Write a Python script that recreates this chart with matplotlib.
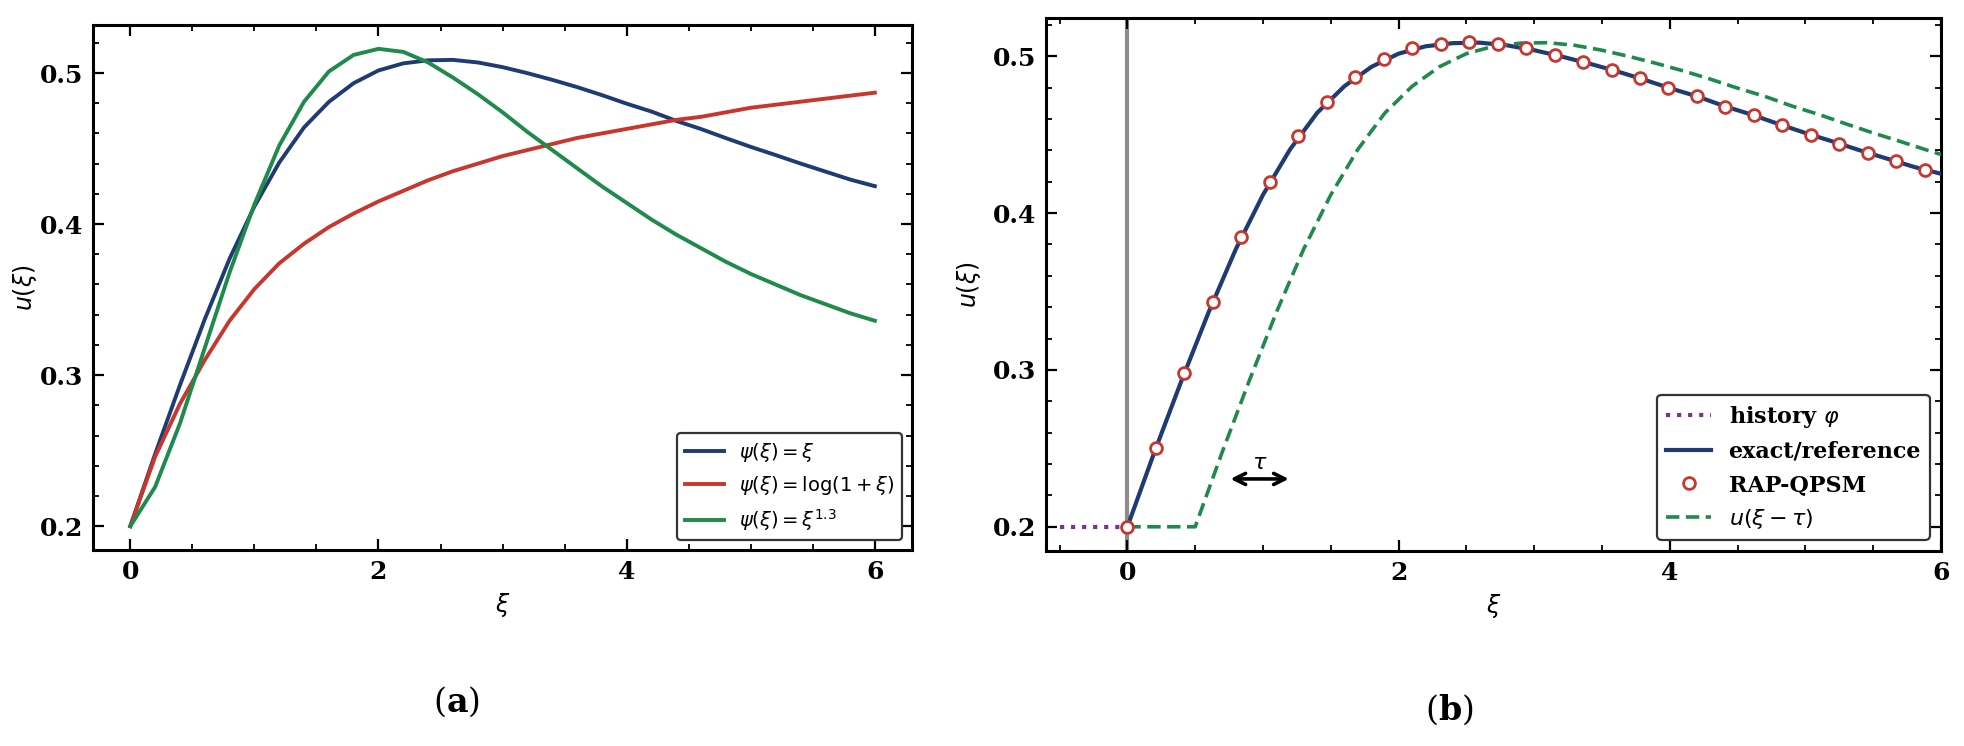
import numpy as np
import matplotlib
matplotlib.use("Agg")
import matplotlib.pyplot as plt
from matplotlib.ticker import MultipleLocator, AutoMinorLocator

###########################
# data

# common grid for the solution curves
xi_grid = [0.0, 0.2, 0.4, 0.6, 0.8, 1.0, 1.2, 1.4, 1.6, 1.8, 2.0, 2.2, 2.4, 2.6,
           2.8, 3.0, 3.2, 3.4, 3.6, 3.8, 4.0, 4.2, 4.4, 4.6, 4.8, 5.0, 5.2,
           5.4, 5.6, 5.8, 6.0]

# psi(xi) = xi  (same curve is the exact/reference solution in panel b)
u_psi_lin = [0.200, 0.2478, 0.2934, 0.3370, 0.3771, 0.4117, 0.4407, 0.4640,
             0.4809, 0.4933, 0.5017, 0.5064, 0.5084, 0.5087, 0.5070, 0.5039,
             0.4999, 0.4955, 0.4907, 0.4854, 0.4797, 0.4745, 0.4683, 0.4629,
             0.4569, 0.4511, 0.4457, 0.4401, 0.4348, 0.4295, 0.4251]

# psi(xi) = log(1 + xi)
u_psi_log = [0.200, 0.246, 0.281, 0.310, 0.336, 0.357, 0.374, 0.387, 0.398,
             0.407, 0.415, 0.422, 0.429, 0.435, 0.440, 0.445, 0.449, 0.453,
             0.457, 0.460, 0.463, 0.466, 0.469, 0.471, 0.474, 0.477, 0.479,
             0.481, 0.483, 0.485, 0.487]

# psi(xi) = xi^1.3
u_psi_pow = [0.200, 0.226, 0.268, 0.318, 0.368, 0.413, 0.452, 0.481, 0.501,
             0.512, 0.516, 0.514, 0.507, 0.497, 0.486, 0.474, 0.461, 0.449,
             0.437, 0.425, 0.414, 0.403, 0.393, 0.384, 0.375, 0.367, 0.360,
             0.353, 0.347, 0.341, 0.336]

# RAP-QPSM nodes (panel b)
rap_xi = [0.0, 0.21, 0.42, 0.63, 0.84, 1.05, 1.26, 1.47, 1.68, 1.89, 2.10, 2.31,
          2.52, 2.73, 2.94, 3.15, 3.36, 3.57, 3.78, 3.99, 4.20, 4.41, 4.62,
          4.83, 5.04, 5.25, 5.46, 5.67, 5.88]
rap_u = [0.200, 0.250, 0.298, 0.3435, 0.385, 0.420, 0.449, 0.471, 0.487, 0.498,
         0.505, 0.508, 0.509, 0.508, 0.505, 0.501, 0.4965, 0.4915, 0.486,
         0.480, 0.4745, 0.468, 0.4623, 0.456, 0.450, 0.4443, 0.4384, 0.433,
         0.4273]

# delay and history
tau = 0.5
history_xi = [-0.5, 0.0]
history_u = [0.2, 0.2]

###########################
# style
plt.rcParams['font.family'] = 'DejaVu Serif'
plt.rcParams['mathtext.fontset'] = 'dejavusans'
plt.rcParams['axes.linewidth'] = 2.2

BLUE = '#1f3b73'
RED = '#c8372d'
GREEN = '#1e8a4c'
PURPLE = '#7b3294'


def style_axes(ax, ypad):
    ax.xaxis.set_major_locator(MultipleLocator(2))
    ax.yaxis.set_major_locator(MultipleLocator(0.1))
    ax.xaxis.set_minor_locator(AutoMinorLocator(4))
    ax.yaxis.set_minor_locator(AutoMinorLocator(5))
    ax.tick_params(which='both', direction='in', top=True, right=True)
    ax.tick_params(which='major', length=8, width=1.6, labelsize=18, pad=7)
    ax.tick_params(which='minor', length=4, width=1.3)
    plt.setp(ax.get_xticklabels() + ax.get_yticklabels(), fontweight='bold')
    ax.set_xlabel(r'$\xi$', fontsize=17, labelpad=5)
    ax.set_ylabel(r'$u(\xi)$', fontsize=17, labelpad=ypad)


fig = plt.figure(figsize=(19.64, 7.46), dpi=100)
ax_a = fig.add_axes([0.0474, 0.2627, 0.4170, 0.7038])
ax_b = fig.add_axes([0.5326, 0.2614, 0.4557, 0.7145])

# panel (a)
ax_a.plot(xi_grid, u_psi_lin, color=BLUE, lw=2.8, label=r'$\psi(\xi) = \xi$')
ax_a.plot(xi_grid, u_psi_log, color=RED, lw=2.8, label=r'$\psi(\xi) = \log(1 + \xi)$')
ax_a.plot(xi_grid, u_psi_pow, color=GREEN, lw=2.8, label=r'$\psi(\xi) = \xi^{1.3}$')
style_axes(ax_a, ypad=1)
leg_a = ax_a.legend(loc='lower right', fontsize=14, framealpha=1, edgecolor='#333333')
leg_a.get_frame().set_linewidth(1.6)

# panel (b)
ax_b.axvline(0, color='#8c8c8c', lw=3, zorder=1)
ax_b.plot(history_xi, history_u, color=PURPLE, lw=3, linestyle=(0, (1, 1.65)),
          label=r'history $\varphi$', zorder=3)
ax_b.plot(xi_grid, u_psi_lin, color=BLUE, lw=3, label='exact/reference', zorder=3)
ax_b.plot(rap_xi, rap_u, 'o', ms=8.5, mfc='white', mec=RED, mew=2,
          label='RAP-QPSM', zorder=5)
shift_xi = np.concatenate(([0.0], np.array(xi_grid) + tau))
shift_u = np.concatenate(([u_psi_lin[0]], u_psi_lin))
ax_b.plot(shift_xi, shift_u, color=GREEN, lw=2.6, linestyle=(0, (3.7, 1.8)),
          label=r'$u(\xi - \tau)$', zorder=4)
ax_b.annotate('', xy=(1.19, 0.2305), xytext=(0.76, 0.2305),
              arrowprops=dict(arrowstyle='<->', lw=2.6, color='black',
                              shrinkA=0, shrinkB=0, mutation_scale=20))
ax_b.text(0.975, 0.2335, r'$\tau$', fontsize=16, ha='center', va='bottom')
ax_b.set_xlim(-0.6, 6)
style_axes(ax_b, ypad=7)
leg_b = ax_b.legend(loc='lower right', fontsize=16, framealpha=1, edgecolor='#333333')
leg_b.get_frame().set_linewidth(1.6)
for txt in leg_b.get_texts():
    if not txt.get_text().startswith('$'):
        txt.set_fontweight('bold')

# sub-figure captions
fig.text(0.2322, 0.059, r'$(\mathbf{a})$', fontsize=24, ha='center', va='center',
         math_fontfamily='dejavuserif')
fig.text(0.7378, 0.048, r'$(\mathbf{b})$', fontsize=24, ha='center', va='center',
         math_fontfamily='dejavuserif')

fig.savefig('out.png', dpi=100)
